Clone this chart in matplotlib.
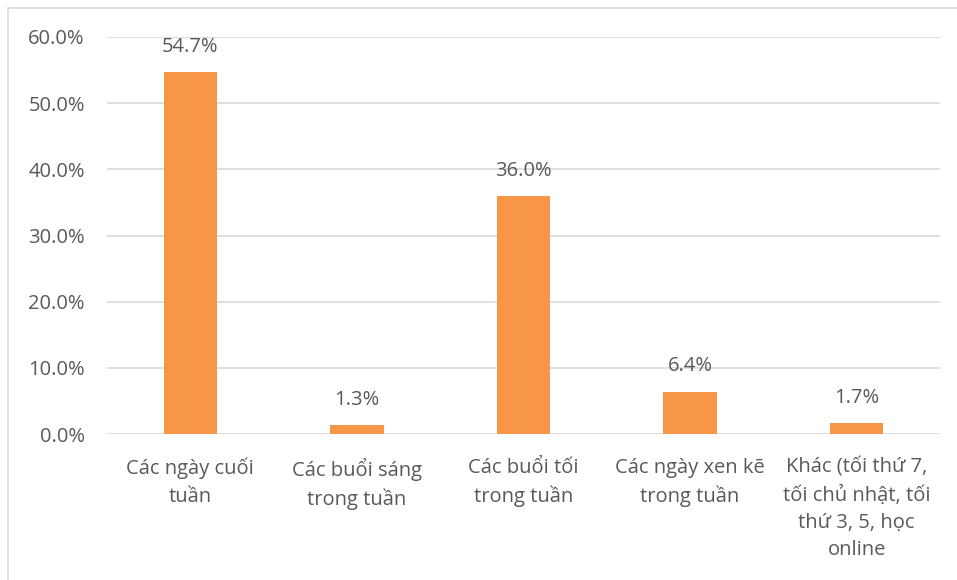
import matplotlib.pyplot as plt
from matplotlib.patches import Rectangle
from matplotlib.ticker import PercentFormatter

categories = [
    "Các ngày cuối\ntuần",
    "Các buổi sáng\ntrong tuần",
    "Các buổi tối\ntrong tuần",
    "Các ngày xen kẽ\ntrong tuần",
    "Khác (tối thứ 7,\ntối chủ nhật, tối\nthứ 3, 5, học\nonline",
]
values = [54.7, 1.3, 36.0, 6.4, 1.7]
yticks = [0, 10, 20, 30, 40, 50, 60]

plt.rcParams['font.family'] = ['Open Sans', 'DejaVu Sans']
text_color = "#595959"
bar_color = "#F79646"
grid_color = "#D9D9D9"

W, H = 957, 580
fig = plt.figure(figsize=(W / 100, H / 100), dpi=100)
ax = fig.add_axes([107 / W, 1 - 434 / H, (940 - 107) / W, (434 - 37) / H])

x = range(len(categories))
bars = ax.bar(x, values, width=0.32, color=bar_color, zorder=3)

for b, v in zip(bars, values):
    ax.text(b.get_x() + b.get_width() / 2, v + 2.3, f"{v:.1f}%",
            ha="center", va="bottom", fontsize=14.5, color=text_color)

ax.set_xlim(-0.5, len(categories) - 0.5)
ax.set_ylim(0, 60)
ax.set_yticks(yticks)
ax.yaxis.set_major_formatter(PercentFormatter(decimals=1))
ax.set_xticks(list(x))
ax.set_xticklabels(categories, fontsize=14.5, color=text_color, linespacing=1.5)
ax.tick_params(axis="y", labelsize=14.5, labelcolor=text_color, length=0, pad=16)
ax.tick_params(axis="x", length=0, pad=17)

ax.grid(axis="y", color=grid_color, linewidth=1.2, zorder=0)
for s in ax.spines.values():
    s.set_visible(False)

# chart area border (extends past the right and bottom image edges)
fig.patches.append(Rectangle((8 / W, -0.1), 1.2, 1 - 8 / H + 0.1,
                             transform=fig.transFigure, fill=False,
                             edgecolor=grid_color, linewidth=1.2))

fig.savefig("out.png", dpi=100)
